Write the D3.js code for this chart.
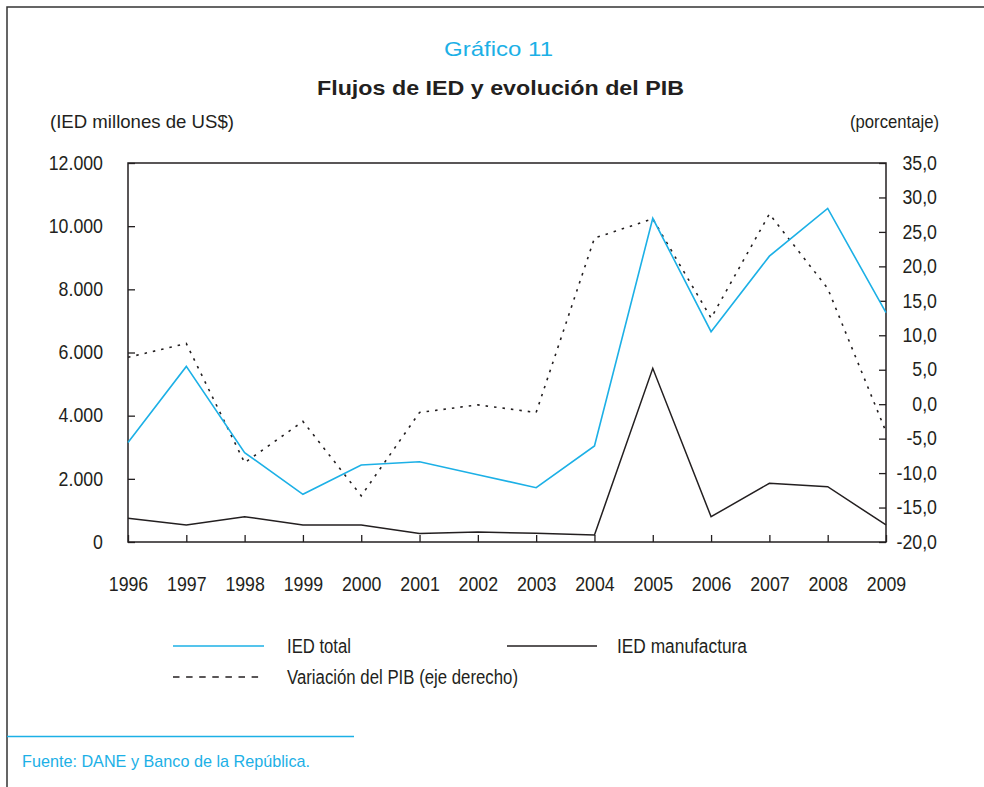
<!DOCTYPE html>
<html><head><meta charset="utf-8">
<script src="https://cdn.jsdelivr.net/npm/d3@7"></script>
<style>
body{margin:0;background:#fff}
svg text{font-family:"Liberation Sans",Arial,Helvetica,sans-serif;fill:#231f20}
</style>
</head><body>
<svg id="chart" width="984" height="787"></svg>
<script>
// ---- data ----
const years = [1996,1997,1998,1999,2000,2001,2002,2003,2004,2005,2006,2007,2008,2009];
const iedTotal = [3150,5560,2830,1510,2440,2540,2130,1720,3040,10250,6660,9050,10560,7260];
const iedManufactura = [750,540,800,540,540,270,320,275,220,5500,800,1860,1750,540];
const pibVariacion = [6.8,8.8,-8.5,-2.5,-13.3,-1.2,-0.1,-1.2,24.1,26.9,12.5,27.6,16.8,-4.0];
const leftTicks = [0,2000,4000,6000,8000,10000,12000];
const rightTicks = [-20,-15,-10,-5,0,5,10,15,20,25,30,35];
const seriesNames = ["IED total","IED manufactura","Variación del PIB (eje derecho)"];

const BLUE = "#1cb0e6", DARK = "#231f20";
const svg = d3.select("#chart");
const M = {left:128, right:886, top:163, bottom:542};

const es = d3.formatLocale({decimal:",", thousands:".", grouping:[3], currency:["$",""], minus:"-"});
const fmtL = es.format(",");
const fmtR = es.format(".1f");

// condensed look: squeeze glyphs horizontally
function squeeze(sel, f){
  sel.each(function(){
    const w = this.getComputedTextLength();
    d3.select(this).attr("textLength", w*f).attr("lengthAdjust","spacingAndGlyphs");
  });
}
function fitTo(sel, w){ sel.attr("textLength", w).attr("lengthAdjust","spacingAndGlyphs"); return sel; }

const x = d3.scaleLinear().domain([years[0], years[years.length-1]]).range([M.left, M.right]);
const yL = d3.scaleLinear().domain([0,12000]).range([M.bottom, M.top]);
const yR = d3.scaleLinear().domain([-20,35]).range([M.bottom, M.top]);

// outer frame (top + left)
svg.append("path").attr("d","M7,787 V7 H984").attr("fill","none").attr("stroke","#333").attr("stroke-width",1.5);

// titles
fitTo(svg.append("text").attr("x",444).attr("y",56)
  .attr("font-size",21).style("fill",BLUE).text("Gráfico 11"), 109);
fitTo(svg.append("text").attr("x",317).attr("y",95)
  .attr("font-size",21).attr("font-weight","bold").text("Flujos de IED y evolución del PIB"), 367);
fitTo(svg.append("text").attr("x",50).attr("y",128).attr("font-size",19).text("(IED  millones de US$)"), 184);
fitTo(svg.append("text").attr("x",850).attr("y",128).attr("font-size",19).text("(porcentaje)"), 89);

// plot frame
svg.append("rect").attr("x",M.left).attr("y",M.top).attr("width",M.right-M.left).attr("height",M.bottom-M.top)
  .attr("fill","none").attr("stroke",DARK).attr("stroke-width",1.5);

function styleAxis(g){
  g.select(".domain").remove();
  g.selectAll(".tick line").attr("stroke",DARK).attr("stroke-width",1.3);
  g.selectAll("text").attr("font-size",19.5).attr("font-family",null).style("fill",DARK);
}

svg.append("g").attr("transform",`translate(${M.left},0)`)
  .call(d3.axisLeft(yL).tickValues(leftTicks).tickFormat(fmtL).tickSizeInner(-7).tickSizeOuter(0).tickPadding(25))
  .call(styleAxis)
  .call(g=>squeeze(g.selectAll("text"),0.91));

svg.append("g").attr("transform",`translate(${M.right},0)`)
  .call(d3.axisRight(yR).tickValues(rightTicks).tickFormat(fmtR).tickSizeInner(-7).tickSizeOuter(0).tickPadding(51))
  .call(styleAxis)
  .call(g=>g.selectAll("text").attr("text-anchor","end"))
  .call(g=>squeeze(g.selectAll("text"),0.91));

svg.append("g").attr("transform",`translate(0,${M.bottom})`)
  .call(d3.axisBottom(x).tickValues(years).tickFormat(d3.format("d")).tickSizeInner(-7).tickSizeOuter(0).tickPadding(35))
  .call(styleAxis)
  .call(g=>squeeze(g.selectAll("text"),0.91));

// lines
const lineL = d3.line().x((d,i)=>x(years[i])).y(d=>yL(d));
const lineR = d3.line().x((d,i)=>x(years[i])).y(d=>yR(d));

svg.append("path").datum(pibVariacion).attr("d",lineR).attr("fill","none")
  .attr("stroke",DARK).attr("stroke-width",1.6).attr("stroke-dasharray","2.5,6");
svg.append("path").datum(iedManufactura).attr("d",lineL).attr("fill","none")
  .attr("stroke",DARK).attr("stroke-width",1.5);
svg.append("path").datum(iedTotal).attr("d",lineL).attr("fill","none")
  .attr("stroke",BLUE).attr("stroke-width",1.6);

// legend
const leg = [
  {x1:173,x2:264,y:646,tx:287,ty:653,w:64,color:BLUE,dash:null,name:seriesNames[0]},
  {x1:507,x2:597,y:646,tx:617,ty:653,w:130,color:DARK,dash:null,name:seriesNames[1]},
  {x1:173,x2:264,y:677,tx:287,ty:684,w:231,color:DARK,dash:"6.5,6.6",name:seriesNames[2]}
];
const lg = svg.append("g");
leg.forEach(d=>{
  lg.append("line").attr("x1",d.x1).attr("x2",d.x2).attr("y1",d.y).attr("y2",d.y)
    .attr("stroke",d.color).attr("stroke-width",1.4).attr("stroke-dasharray",d.dash);
  fitTo(lg.append("text").attr("x",d.tx).attr("y",d.ty).attr("font-size",20).text(d.name), d.w);
});

// source
svg.append("line").attr("x1",7).attr("x2",354).attr("y1",736.5).attr("y2",736.5).attr("stroke",BLUE).attr("stroke-width",1.3);
fitTo(svg.append("text").attr("x",22).attr("y",767).attr("font-size",17).style("fill",BLUE)
  .text("Fuente: DANE y Banco de la República."), 288);
</script>
</body></html>
